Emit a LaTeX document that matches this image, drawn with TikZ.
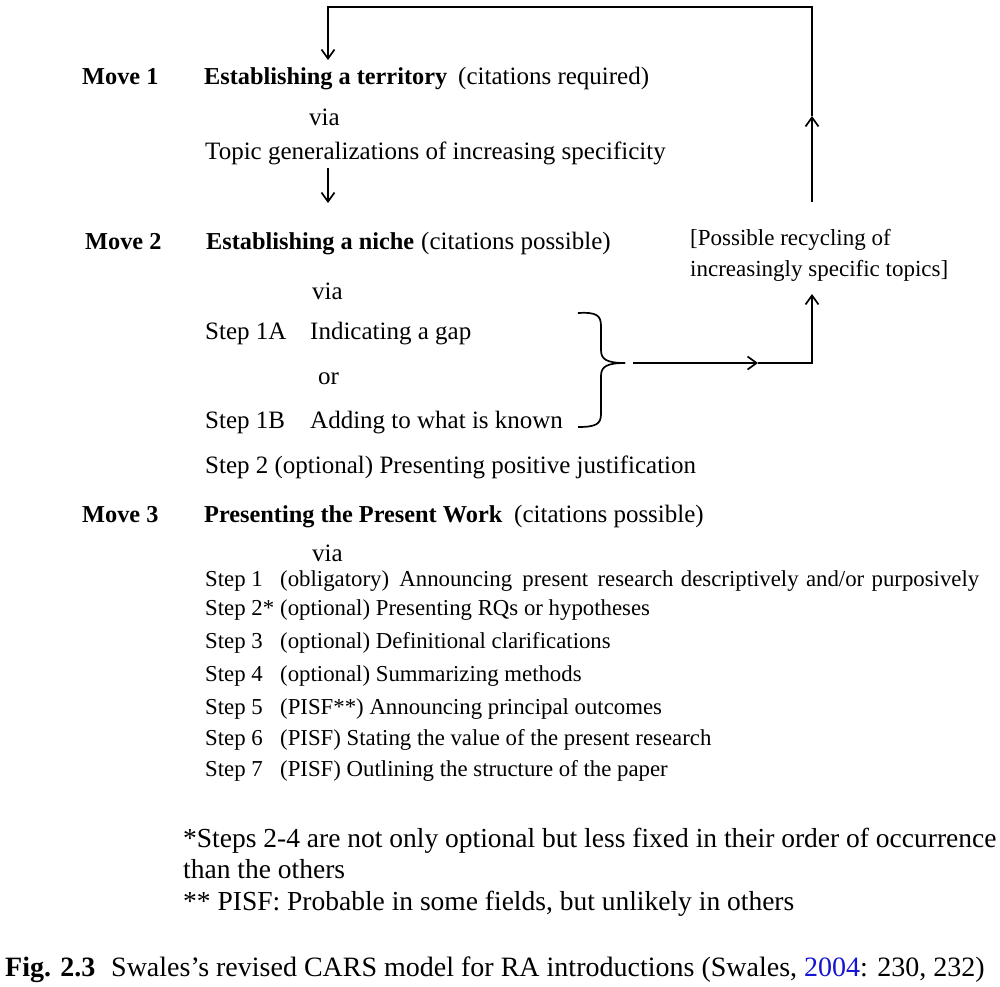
\documentclass[tikz,border=0pt]{standalone}
\usepackage{fontspec}
\setmainfont{Liberation Serif}
\usetikzlibrary{arrows.meta}
\definecolor{linkblue}{RGB}{20,20,210}
\tikzset{
  txt/.style={anchor=base west, inner sep=0pt, font=\fontsize{25}{29}\selectfont},
  bld/.style={txt, font=\fontsize{24.3}{29}\selectfont\bfseries},
  rec/.style={txt, font=\fontsize{23}{27}\selectfont},
  stp/.style={anchor=base west, inner sep=0pt, font=\fontsize{22.8}{26}\selectfont},
  fnt/.style={anchor=base west, inner sep=0pt, font=\fontsize{27.5}{31}\selectfont},
  captxt/.style={anchor=base west, inner sep=0pt, font=\fontsize{28}{32}\selectfont},
  ln/.style={line width=1.7pt},
  arr/.style={ln, -{Straight Barb[length=9pt,width=13pt,line width=1.7pt]}},
}
\begin{document}
\begin{tikzpicture}[x=1pt,y=-1pt]
\useasboundingbox (0,0) rectangle (1000,986);
% Move 1
\node[bld] (m1) at (82,84) {Move 1};
\node[bld] (m1t) at (204,84) {Establishing a territory};
\node[txt] (m1c) at (458,84) {(citations required)};
\node[txt] (via1) at (309,125) {via};
\node[txt] (topic) at (205,159) {Topic generalizations of increasing specificity};
% Move 2
\node[bld] (m2) at (85,249) {Move 2};
\node[bld] (m2t) at (206,249) {Establishing a niche};
\node[txt] (m2c) at (421,249) {(citations possible)};
\node[txt] (via2) at (312,299) {via};
\node[txt] (s1a) at (205,339) {Step 1A};
\node[txt] (s1at) at (310,339) {Indicating a gap};
\node[txt] (or) at (318,384) {or};
\node[txt] (s1b) at (205,428) {Step 1B};
\node[txt] (s1bt) at (310,428) {Adding to what is known};
\node[txt] (s2) at (205,473) {Step 2 (optional) Presenting positive justification};
\node[rec] (rec1) at (690,245) {[Possible recycling of};
\node[rec] (rec2) at (690,276) {increasingly specific topics]};
% Move 3
\node[bld] (m3) at (82,522) {Move 3};
\node[bld] (m3t) at (204,522) {Presenting the Present Work};
\node[txt] (m3c) at (514,522) {(citations possible)};
\node[txt] (via3) at (312,561) {via};
\node[stp] (p1) at (205,586) {Step 1};
\node[stp] (p1t) at (280,586) {\makebox[699pt][s]{(obligatory)\hspace{3pt} Announcing\hspace{3pt} present\hspace{2pt} research descriptively and/or purposively}};
\node[stp] (p2) at (205,615) {Step 2*};
\node[stp] (p2t) at (280,615) {(optional) Presenting RQs or hypotheses};
\node[stp] (p3) at (205,648) {Step 3};
\node[stp] (p3t) at (280,648) {(optional) Definitional clarifications};
\node[stp] (p4) at (205,681) {Step 4};
\node[stp] (p4t) at (280,681) {(optional) Summarizing methods};
\node[stp] (p5) at (205,714) {Step 5};
\node[stp] (p5t) at (280,714) {(PISF**) Announcing principal outcomes};
\node[stp] (p6) at (205,745) {Step 6};
\node[stp] (p6t) at (280,745) {(PISF) Stating the value of the present research};
\node[stp] (p7) at (205,776) {Step 7};
\node[stp] (p7t) at (280,776) {(PISF) Outlining the structure of the paper};
% footnotes
\node[fnt] (f1) at (183,847) {*Steps 2-4 are not only optional but less fixed in their order of occurrence};
\node[fnt] (f2) at (183,878) {than the others};
\node[fnt] (f3) at (183,910) {** PISF: Probable in some fields, but unlikely in others};
% caption
\node[captxt] (fig) at (5,976) {\bfseries Fig. 2.3};
\node[captxt] (capt) at (111,976) {Swales's revised CARS model for RA introductions (Swales, \textcolor{linkblue}{2004}: 230, 232)};
% connectors
\coordinate (loopA) at (812,202);
\coordinate (loopM) at (812,116);
\coordinate (loopTR) at (812,7);
\coordinate (loopTL) at (328,7);
\coordinate (loopE) at (328,60);
\draw[arr] (loopA) -- (loopM);
\draw[ln] (loopM) -- (loopTR) -- (loopTL) -- (328,30);
\draw[arr] (328,30) -- (loopE);
\coordinate (dA) at (328,168);
\coordinate (dB) at (328,203);
\draw[arr] (dA) -- (dB);
% brace
\coordinate (bT) at (578,313);
\coordinate (bB) at (578,427);
\coordinate (bTip) at (625,363);
\draw[ln] (bT) .. controls (596,312) and (601,315) .. (601,326) -- (601,350)
  .. controls (601,359) and (606,363) .. (bTip);
\draw[ln] (bTip) .. controls (606,363) and (601,367) .. (601,376) -- (601,414)
  .. controls (601,424) and (596,427) .. (bB);
\coordinate (hA) at (633,363);
\coordinate (hM) at (758,363);
\coordinate (hC) at (812,363);
\coordinate (hE) at (812,294);
\draw[arr] (hA) -- (hM);
\draw[ln] (hM) -- (hC) -- (812,330);
\draw[arr] (812,330) -- (hE);
\end{tikzpicture}
\end{document}
